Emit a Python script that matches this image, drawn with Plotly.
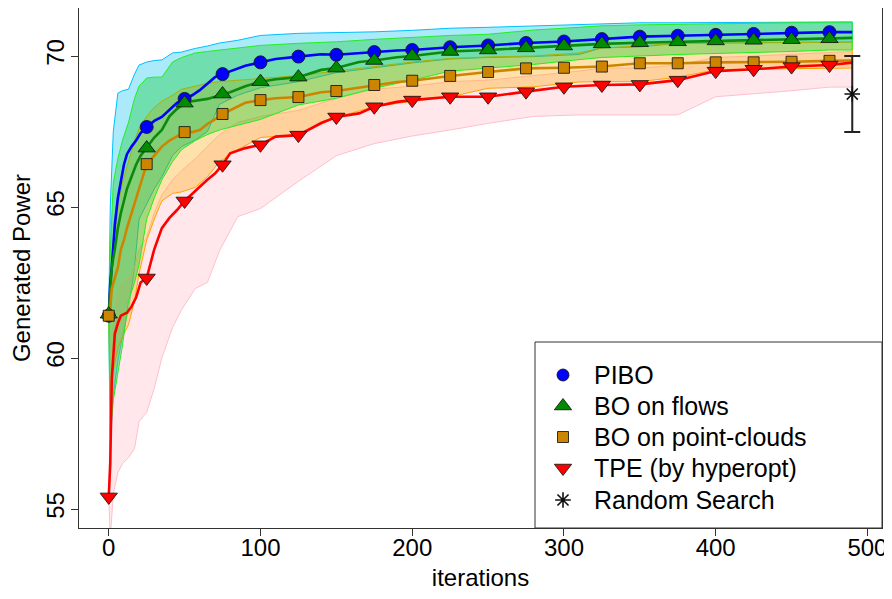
import plotly.graph_objects as go

# ---------------- data ----------------
iters = [0, 1, 2, 4, 6, 8, 10, 12, 15, 18, 21, 25, 30, 35, 40, 45, 50, 55, 60, 65, 70, 75,
         80, 90, 100, 110, 125, 140, 150, 165, 175, 190, 200, 225, 250, 275, 300, 325, 350,
         375, 400, 425, 450, 475, 490]
pibo = [61.4, 62.5, 63.0, 64.4, 65.3, 65.9, 66.4, 66.75, 67.0, 67.2, 67.45, 67.65, 67.85, 67.98,
        68.2, 68.45, 68.58, 68.7, 68.87, 69.1, 69.3, 69.4, 69.5, 69.68, 69.79, 69.9, 69.98, 70.06,
        70.04, 70.1, 70.13, 70.18, 70.2, 70.29, 70.35, 70.43, 70.48, 70.56, 70.64, 70.67, 70.7,
        70.73, 70.77, 70.79, 70.79]
bo_flows = [61.45, 62.3, 63.0, 63.6, 64.3, 64.8, 65.2, 65.6, 66.0, 66.4, 66.7, 66.95, 67.3, 67.55,
            68.0, 68.25, 68.44, 68.5, 68.54, 68.58, 68.65, 68.74, 68.8, 69.0, 69.15, 69.23, 69.3,
            69.54, 69.6, 69.8, 69.85, 69.96, 70.0, 70.15, 70.2, 70.27, 70.33, 70.4, 70.44, 70.47,
            70.5, 70.52, 70.54, 70.57, 70.6]
bo_pc = [61.4, 61.6, 62.3, 62.7, 63.0, 63.6, 63.9, 64.3, 64.8, 65.3, 65.8, 66.42, 66.7, 67.0, 67.2,
         67.35, 67.48, 67.48, 67.55, 67.75, 67.9, 68.08, 68.2, 68.45, 68.54, 68.6, 68.64, 68.8,
         68.84, 68.95, 69.04, 69.14, 69.18, 69.34, 69.47, 69.59, 69.61, 69.65, 69.76, 69.76, 69.79,
         69.79, 69.81, 69.84, 69.85]
tpe = [55.4, 56.5, 59.3, 60.8, 61.15, 61.4, 61.45, 61.5, 61.7, 62.0, 62.5, 62.65, 63.6, 64.3, 64.64,
       64.9, 65.2, 65.45, 65.67, 65.9, 66.11, 66.4, 66.78, 66.95, 67.06, 67.33, 67.38, 67.78, 67.98,
       68.1, 68.32, 68.48, 68.54, 68.65, 68.65, 68.82, 68.98, 69.04, 69.06, 69.2, 69.5, 69.56,
       69.65, 69.7, 69.78]

band_iters = [0, 1, 3, 6, 9, 13, 17, 20, 25, 30, 35, 42, 48, 57, 65, 73, 85, 100, 125, 150, 175,
              200, 225, 250, 280, 310, 325, 350, 375, 400, 425, 450, 475, 490]
pibo_hi = [61.4, 65.0, 67.5, 68.77, 68.85, 68.9, 69.4, 69.7, 69.8, 69.85, 69.87, 70.1, 70.13, 70.25,
           70.33, 70.43, 70.52, 70.68, 70.75, 70.77, 70.8, 70.85, 70.92, 70.95, 71.0, 71.05, 71.08,
           71.1, 71.1, 71.11, 71.12, 71.13, 71.13, 71.13]
pibo_lo = [61.4, 56.9, 58.8, 59.9, 60.7, 61.6, 63.0, 64.6, 65.1, 65.6, 66.0, 66.7, 67.0, 67.22, 67.5,
           68.4, 68.7, 68.95, 69.15, 69.45, 69.6, 69.77, 69.9, 69.95, 69.98, 70.05, 70.27, 70.3,
           70.42, 70.43, 70.44, 70.45, 70.46, 70.46]
flows_hi = [61.45, 63.5, 65.8, 66.6, 67.2, 67.8, 68.6, 69.0, 69.27, 69.3, 69.3, 69.8, 69.95, 70.1,
            70.15, 70.2, 70.26, 70.35, 70.42, 70.47, 70.55, 70.62, 70.68, 70.72, 70.86, 70.95, 71.0,
            71.03, 71.05, 71.06, 71.08, 71.1, 71.1, 71.1]
flows_lo = [61.45, 57.5, 58.6, 59.5, 60.4, 61.9, 62.5, 63.1, 64.6, 65.3, 65.9, 66.5, 66.9, 67.2,
            67.4, 67.55, 67.7, 67.9, 68.38, 68.6, 68.93, 69.2, 69.5, 69.6, 69.72, 69.88, 69.95, 70.0,
            70.05, 70.1, 70.12, 70.15, 70.2, 70.2]
pc_hi = [61.4, 62.5, 63.8, 65.0, 65.8, 66.5, 67.2, 67.6, 68.0, 68.3, 68.5, 68.7, 68.9, 69.0, 69.1,
         69.15, 69.2, 69.25, 69.35, 69.5, 69.65, 69.8, 69.92, 69.97, 70.0, 70.1, 70.27, 70.33, 70.42,
         70.43, 70.44, 70.45, 70.46, 70.46]
pc_lo = [61.4, 58.9, 59.6, 60.3, 60.7, 61.1, 61.9, 62.8, 63.9, 64.6, 65.2, 65.45, 65.5, 65.65, 66.0,
         66.5, 66.9, 67.3, 67.4, 67.97, 68.32, 68.5, 68.65, 68.93, 68.98, 69.14, 69.15, 69.15, 69.3,
         69.54, 69.55, 69.58, 69.6, 69.6]
tpe_hi = [55.4, 58.5, 61.0, 62.2, 62.5, 62.6, 63.0, 63.6, 64.0, 64.8, 65.4, 65.9, 66.2, 66.6, 67.0,
          67.4, 67.8, 68.0, 68.2, 68.6, 68.9, 69.0, 69.15, 69.2, 69.35, 69.5, 69.6, 69.6, 69.7,
          69.95, 70.0, 70.05, 70.1, 70.15]
tpe_lo = [55.4, 54.0, 55.5, 56.2, 56.5, 56.7, 57.0, 57.9, 58.2, 59.0, 60.0, 61.0, 61.6, 62.3, 62.5,
          63.55, 64.68, 64.95, 65.85, 66.7, 67.1, 67.35, 67.55, 67.77, 68.0, 68.05, 68.05, 68.05,
          68.05, 68.65, 68.75, 68.85, 68.97, 68.97]

rs_x = [490]
rs_y = [68.74]
rs_err = [1.26]

marker_step = 25
x_ticks = [0, 100, 200, 300, 400, 500]
y_ticks = [55, 60, 65, 70]
legend_labels = ["PIBO", "BO on flows", "BO on point-clouds", "TPE (by hyperopt)", "Random Search"]

# ---------------- styles ----------------
FONT = "Liberation Sans, Arial, sans-serif"
series = [
    dict(y=pibo, color="#0000FF", mfill="#0000FF", symbol="circle", size=13),
    dict(y=bo_flows, color="#0B8A0B", mfill="#008B00", symbol="triangle-up", size=15),
    dict(y=bo_pc, color="#CD8500", mfill="#CD8500", symbol="square", size=11),
    dict(y=tpe, color="#FF0000", mfill="#FF0000", symbol="triangle-down", size=15),
]
bands = [
    (pibo_hi, pibo_lo, "rgba(0,190,240,0.33)", "#00BFFF"),
    (tpe_hi, tpe_lo, "rgba(255,185,197,0.35)", "#FFC0CB"),
    (pc_hi, pc_lo, "rgba(255,165,0,0.33)", "#FFA500"),
    (flows_hi, flows_lo, "rgba(0,200,30,0.34)", "#22EE22"),
]

fig = go.Figure()

for hi, lo, fill, edge in bands:
    fig.add_trace(go.Scatter(
        x=band_iters + band_iters[::-1], y=hi + lo[::-1],
        mode="lines", fill="toself", fillcolor=fill,
        line=dict(color=edge, width=1), hoverinfo="skip", showlegend=False))

for s in series:
    fig.add_trace(go.Scatter(x=iters, y=s["y"], mode="lines",
                             line=dict(color=s["color"], width=2.6), showlegend=False))
for s in series:
    mx = [x for x in iters if x % marker_step == 0 and x < 490]
    my = [y for x, y in zip(iters, s["y"]) if x % marker_step == 0 and x < 490]
    fig.add_trace(go.Scatter(x=mx, y=my, mode="markers",
                             marker=dict(symbol=s["symbol"], size=s["size"], color=s["mfill"],
                                         opacity=1,
                                         line=dict(color="rgba(20,20,20,0.85)", width=1)),
                             showlegend=False))

fig.add_trace(go.Scatter(
    x=rs_x, y=rs_y, mode="markers",
    marker=dict(symbol="asterisk-open", size=13, color="#111", line=dict(color="#111", width=1.6)),
    error_y=dict(type="data", array=rs_err, visible=True, color="#222", thickness=2, width=8),
    showlegend=False))

# ---------------- geometry (page body adds an 8px offset) ----------------
OFF = 8
WIN_W, WIN_H = 892, 599
W, H = WIN_W - OFF, WIN_H - 2 * OFF
PL, PR, PT, PB = 79, 882, 8, 528      # plot box in window pixels
L, R, T, B = PL - OFF, (OFF + W) - PR, PT - OFF, (OFF + H) - PB
pw, ph = PR - PL, PB - PT


def px2paper_x(px):
    return (px - PL) / pw


def px2paper_y(py):
    return (PB - py) / ph


# ---------------- manual legend (R style) ----------------
leg_rows = [375, 406, 437, 468, 500]
leg_syms = ["circle", "triangle-up", "square", "triangle-down", "asterisk-open"]
leg_cols = ["#0000FF", "#008B00", "#CD8500", "#FF0000", "#111111"]
leg_sizes = [12, 15, 11, 15, 13]

fig.add_shape(type="rect", xref="paper", yref="paper",
              x0=px2paper_x(535), x1=1.0, y0=0.0, y1=px2paper_y(342),
              line=dict(color="#333", width=1), fillcolor="white", layer="below")

for sym, col, sz, r in zip(leg_syms, leg_cols, leg_sizes, leg_rows):
    lw = 1.6 if sym == "asterisk-open" else 1
    lc = "#111111" if sym == "asterisk-open" else "rgba(20,20,20,0.85)"
    fig.add_trace(go.Scatter(
        x=[px2paper_x(563)], y=[px2paper_y(r)], xaxis="x2", yaxis="y2", mode="markers",
        marker=dict(symbol=sym, size=sz, color=col, opacity=1, line=dict(color=lc, width=lw)),
        opacity=1, showlegend=False, hoverinfo="skip"))

for lab, r in zip(legend_labels, leg_rows):
    fig.add_annotation(x=px2paper_x(592), y=px2paper_y(r), xref="paper", yref="paper",
                       text=lab, showarrow=False, xanchor="left", yanchor="middle",
                       font=dict(family=FONT, size=25, color="black"))

y_top = 55 + (509 - PT) / 30.2
y_bot = 55 - (PB - 509) / 30.2

fig.update_layout(
    width=W, height=H,
    margin=dict(l=L, r=R, t=T, b=B, autoexpand=False),
    paper_bgcolor="white", plot_bgcolor="white",
    font=dict(family=FONT, size=24, color="black"),
    showlegend=False,
    xaxis=dict(range=[-19.6, 509.6], tickvals=x_ticks, ticks="outside", ticklen=7,
               tickcolor="#333", showline=True, linecolor="#333", linewidth=1, mirror=True,
               showgrid=False, zeroline=False, ticklabelstandoff=-9,
               title=dict(text="iterations", font=dict(size=24), standoff=9)),
    yaxis=dict(range=[y_bot, y_top], tickvals=y_ticks, ticks="outside", ticklen=7,
               tickcolor="#333", showline=True, linecolor="#333", linewidth=1, mirror=True,
               showgrid=False, zeroline=False, tickangle=-90, ticklabelstandoff=-3,
               title=dict(text="Generated Power", font=dict(size=24), standoff=20)),
    xaxis2=dict(overlaying="x", range=[0, 1], visible=False, fixedrange=True),
    yaxis2=dict(overlaying="y", range=[0, 1], visible=False, fixedrange=True),
)

fig.write_html("out.html")
